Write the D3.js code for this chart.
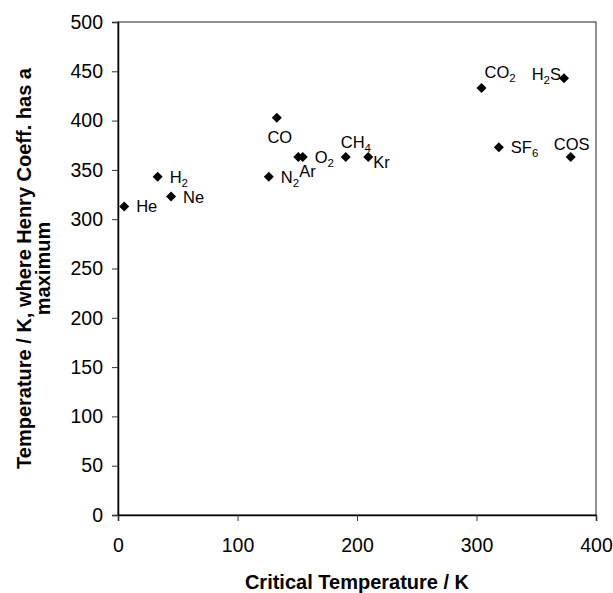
<!DOCTYPE html>
<html>
<head>
<meta charset="utf-8">
<script src="https://cdn.jsdelivr.net/npm/d3@7"></script>
<style>
  body { margin: 0; background: #fff; }
  svg { display: block; font-family: "Liberation Sans", Arial, sans-serif; }
</style>
</head>
<body>
<div id="vis"></div>
<script>
// gases, critical temperature (K) and temperature where Henry coeff. has a maximum (K)
const gases = ['He', 'H2', 'Ne', 'N2', 'CO', 'Ar', 'O2', 'CH4', 'Kr', 'CO2', 'H2S', 'SF6', 'COS'];
const critTemp = [5.2, 33.2, 44.4, 126.2, 132.9, 150.9, 154.6, 190.6, 209.4, 304.2, 373.2, 318.7, 378.8];
const maxTemp = [313, 343, 323, 343, 403, 363, 363, 363, 363, 433, 443, 373, 363];

const xTicks = [0, 100, 200, 300, 400];
const yTicks = [0, 50, 100, 150, 200, 250, 300, 350, 400, 450, 500];

// label placement relative to the marker
const labelPos = {
  He: [12, 6, 'start'], H2: [12, 6, 'start'], Ne: [12, 6, 'start'], N2: [12, 6, 'start'],
  CO: [3, 25, 'middle'], Ar: [1, 20, 'start'], O2: [12, 6, 'start'], CH4: [-5, -9, 'start'],
  Kr: [5, 11, 'start'], CO2: [3, -10, 'start'], H2S: [-3, 2, 'end'], SF6: [12, 6, 'start'],
  COS: [1, -7, 'middle']
};

const W = 613, H = 593;
const m = { left: 118, right: 17, top: 22, bottom: 78 };

const svg = d3.select('#vis').append('svg').attr('width', W).attr('height', H);

const x = d3.scaleLinear().domain([0, 400]).range([m.left, W - m.right]);
const y = d3.scaleLinear().domain([0, 500]).range([H - m.bottom, m.top]);

// frame
svg.append('rect')
  .attr('x', x(0)).attr('y', y(500))
  .attr('width', x(400) - x(0)).attr('height', y(0) - y(500))
  .attr('fill', 'none').attr('stroke', '#222').attr('stroke-width', 1);

const xAxis = svg.append('g')
  .attr('transform', `translate(0,${y(0)})`)
  .call(d3.axisBottom(x).tickValues(xTicks).tickSize(6).tickPadding(17));
const yAxis = svg.append('g')
  .attr('transform', `translate(${x(0)},0)`)
  .call(d3.axisLeft(y).tickValues(yTicks).tickSize(6).tickPadding(9));

[xAxis, yAxis].forEach(a => {
  a.select('.domain').attr('stroke', '#000').attr('stroke-width', 1.5);
  a.selectAll('.tick line').attr('stroke', '#333');
  a.selectAll('.tick text').attr('font-size', 19.5).attr('fill', '#000')
    .attr('font-family', '"Liberation Sans", Arial, sans-serif');
});

// axis titles
svg.append('text')
  .attr('x', (x(0) + x(400)) / 2).attr('y', 589)
  .attr('text-anchor', 'middle').attr('font-weight', 'bold').attr('font-size', 20)
  .text('Critical Temperature / K');

const yt = svg.append('text')
  .attr('transform', `translate(31,${(y(0) + y(500)) / 2}) rotate(-90)`)
  .attr('text-anchor', 'middle').attr('font-weight', 'bold').attr('font-size', 20);
yt.append('tspan').attr('x', 0).attr('dy', 0).text('Temperature / K, where Henry Coeff. has a');
yt.append('tspan').attr('x', 0).attr('dy', 19).text('maximum');

// points
const pts = gases.map((g, i) => ({ name: g, tc: critTemp[i], tm: maxTemp[i] }));

svg.append('g').selectAll('path').data(pts).enter().append('path')
  .attr('d', d3.symbol().type(d3.symbolSquare).size(50))
  .attr('transform', d => `translate(${x(d.tc)},${y(d.tm)}) rotate(45)`)
  .attr('fill', '#000');

// labels with subscripts
const lab = svg.append('g').selectAll('text').data(pts).enter().append('text')
  .attr('x', d => x(d.tc) + labelPos[d.name][0])
  .attr('y', d => y(d.tm) + labelPos[d.name][1])
  .attr('text-anchor', d => labelPos[d.name][2])
  .attr('font-size', 16.5).attr('fill', '#000');

lab.each(function(d) {
  const t = d3.select(this);
  const parts = d.name.match(/[A-Za-z]+|\d+/g);
  let sub = false;
  parts.forEach(p => {
    if (/\d/.test(p)) {
      t.append('tspan').attr('font-size', 11.5).attr('dy', 4).text(p);
      sub = true;
    } else {
      t.append('tspan').attr('dy', sub ? -4 : 0).text(p);
      sub = false;
    }
  });
});
</script>
</body>
</html>
